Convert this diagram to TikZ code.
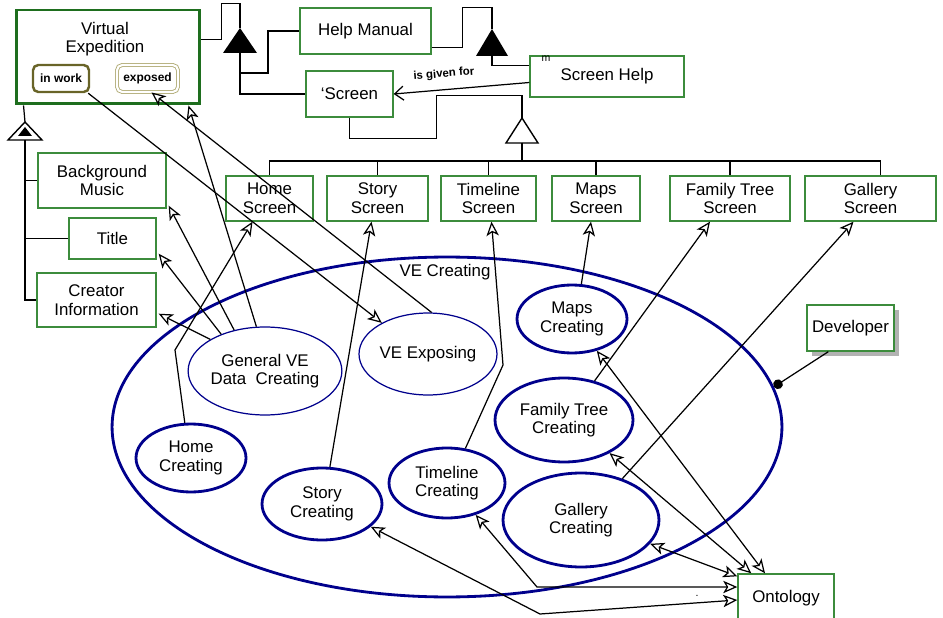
\documentclass[tikz,border=0pt]{standalone}
\usepackage{fontspec}
\setmainfont{Liberation Sans}
\usetikzlibrary{shapes.geometric,arrows.meta,shadows}

\definecolor{boxgreen}{RGB}{60,140,60}
\definecolor{vegreen}{RGB}{30,110,30}
\definecolor{ucnavy}{RGB}{0,0,140}
\definecolor{workolive}{RGB}{105,100,40}
\definecolor{exposedkhaki}{RGB}{175,170,115}

\begin{document}
\begin{tikzpicture}[x=0.02cm,y=-0.02cm,
    every node/.style={font=\fontsize{9.6}{10.6}\selectfont, align=center},
    box/.style={draw=boxgreen, line width=0.8pt, inner sep=0pt},
    vebox/.style={draw=vegreen, line width=1.7pt, inner sep=0pt},
    statebox/.style={rounded corners=3pt, inner sep=0pt, minimum height=0.54cm,
        font=\fontsize{6.8}{7.5}\selectfont\bfseries},
    usecase/.style={ellipse, draw=ucnavy, line width=1.6pt, inner sep=0pt},
    thinuse/.style={ellipse, draw=ucnavy, line width=0.7pt, inner sep=0pt},
    link/.style={line width=0.7pt},
    dep/.style={link, -{Stealth[open,length=8pt,width=7pt,inset=2pt]}},
    both/.style={link, {Stealth[open,length=8pt,width=7pt,inset=2pt]}-{Stealth[open,length=8pt,width=7pt,inset=2pt]}}]

    % Frame of the picture
    \useasboundingbox (0,0) rectangle (943,618);

    % Draw the system boundary
    \node[usecase, minimum width=13.4cm, minimum height=6.8cm] (vecreate) at (447,427) {};
    \node (vclabel) at (445,272) {VE Creating};

    % Draw Virtual Expedition with its states
    \node[vebox, minimum width=3.68cm, minimum height=1.88cm] (ve) at (108,57) {};
    \node (vetitle) at (105,39) {Virtual\\Expedition};
    \node[statebox, draw=workolive, line width=1.4pt, minimum width=1.12cm] (inwork) at (61,78.5) {in work};
    \node[statebox, draw=exposedkhaki, line width=0.5pt, double=white, double distance=1.2pt,
        minimum width=1.22cm] (exposed) at (147.5,78.5) {exposed};

    % Draw help and screen classes
    \node[box, minimum width=2.62cm, minimum height=0.92cm] (help) at (365.5,31) {Help Manual};
    \node[box, minimum width=1.74cm, minimum height=0.92cm] (screen) at (349.5,94) {‘Screen};
    \node[box, minimum width=3.08cm, minimum height=0.82cm] (shelp) at (607,76.5) {Screen Help};
    \node[font=\fontsize{6}{6}\selectfont] (mmark) at (546,59) {m};

    % Draw the screens
    \node[box, minimum width=1.74cm, minimum height=0.9cm] (homescr) at (269.5,198.5) {Home\\Screen};
    \node[box, minimum width=2.02cm, minimum height=0.9cm] (storyscr) at (377.5,198.5) {Story\\Screen};
    \node[box, minimum width=1.9cm, minimum height=0.9cm] (timescr) at (488.5,198.5) {Timeline\\Screen};
    \node[box, minimum width=1.76cm, minimum height=0.9cm] (mapsscr) at (596,198.5) {Maps\\Screen};
    \node[box, minimum width=2.4cm, minimum height=0.9cm] (famscr) at (730,198.5) {Family Tree\\Screen};
    \node[box, minimum width=2.62cm, minimum height=0.9cm] (galscr) at (870.5,198.5) {Gallery\\Screen};

    % Draw the parts on the left
    \node[box, minimum width=2.56cm, minimum height=1.1cm] (bgmusic) at (102,180.5) {Background\\Music};
    \node[box, minimum width=1.74cm, minimum height=0.82cm] (title) at (112.5,238.5) {Title};
    \node[box, minimum width=2.38cm, minimum height=1.08cm] (creator) at (96.5,300) {Creator\\Information};

    % Draw actor and ontology
    \node[box, fill=white, minimum width=1.74cm, minimum height=0.92cm,
        drop shadow={shadow xshift=3pt, shadow yshift=-3pt, fill=black!30, opacity=1}] (developer) at (850.5,328) {Developer};
    \node[box, minimum width=1.92cm, minimum height=0.96cm] (ontology) at (786,598) {Ontology};
    \node[font=\fontsize{6}{6}\selectfont] (dotmark) at (697,596) {.};

    % Draw the use cases
    \node[thinuse, minimum width=2.96cm, minimum height=1.76cm] (gve) at (265,371) {General VE\\Data\ \ Creating};
    \node[thinuse, minimum width=2.76cm, minimum height=1.64cm] (veexp) at (428,354) {VE Exposing};
    \node[usecase, minimum width=2.2cm, minimum height=1.36cm] (homecr) at (191,458) {Home\\Creating};
    \node[usecase, minimum width=2.4cm, minimum height=1.44cm] (storycr) at (322,504) {Story\\Creating};
    \node[usecase, minimum width=2.32cm, minimum height=1.4cm] (timecr) at (447,483) {Timeline\\Creating};
    \node[usecase, minimum width=2.2cm, minimum height=1.36cm] (mapscr) at (572,319) {Maps\\Creating};
    \node[usecase, minimum width=2.76cm, minimum height=1.68cm] (famcr) at (564,420) {Family Tree\\Creating};
    \node[usecase, minimum width=3.12cm, minimum height=1.88cm] (galcr) at (581,520) {Gallery\\Creating};

    % Draw the aggregation triangles
    \coordinate (agg1) at (240,28);
    \coordinate (agg1b) at (240,53);
    \fill (agg1) -- ++(17,25) -- ++(-34,0) -- cycle;
    \coordinate (agg2) at (492,29);
    \coordinate (agg2b) at (492,56);
    \fill (agg2) -- ++(16,27) -- ++(-32,0) -- cycle;
    \coordinate (agg3) at (522,118);
    \coordinate (agg3b) at (522,143);
    \draw[link, line width=0.8pt] (agg3) -- ++(16,25) -- ++(-32,0) -- cycle;
    \coordinate (agg4) at (25,122);
    \coordinate (agg4b) at (25,140);
    \draw[link, line width=0.8pt] (agg4) -- ++(17,18) -- ++(-34,0) -- cycle;
    \fill ([shift={(0,5)}]agg4) -- ++(7,9) -- ++(-14,0) -- cycle;

    % Connect help and screen
    \draw[link] ([shift={(0,31)}]ve.north east) -- ++(20,0) -- ++(0,-36) -| (agg1);
    \draw[link] (agg1b) -- ++(0,20) -- ++(28,0) |- (help.west);
    \draw[link] (agg1b) |- (screen.west);
    \draw[link] ([shift={(0,-7)}]help.south east) -- ++(31,0) -- ++(0,-40) -| (agg2);
    \draw[link] (agg2b) |- ([shift={(0,10)}]shelp.north west);
    \draw[link, -{Straight Barb[length=5pt,width=8pt]}] ([shift={(0,6)}]shelp.west) --
        node[pos=0.62, above=2pt, sloped, font=\fontsize{6.5}{7}\selectfont\bfseries] (givenfor) {is given for} (screen.east);

    % Connect the screens
    \draw[link] (screen.south) -- ++(0,21) -- ++(87,0) -- ++(0,-43) -| (agg3);
    \draw[line width=1.3pt] (agg3b) -- ++(0,18);
    \foreach \s in {homescr,storyscr,timescr,mapsscr,famscr}
        \draw[link] (agg3b) -- ++(0,18) -| (\s.north);
    \draw[link] (agg3b) -- ++(0,18) -| ([shift={(10,0)}]galscr.north);

    % Connect the parts
    \draw[link] ([shift={(9,0)}]ve.south west) -- (agg4);
    \foreach \p in {bgmusic,title,creator}
        \draw[link] (agg4b) |- (\p.west);

    % Developer
    \draw[link, -{Circle[length=5.5pt]}] ([shift={(22,0)}]developer.south west) -- (vecreate.7);

    % Dependencies
    \coordinate (hbend) at (175,350);
    \coordinate (tbend) at (503,365);
    \coordinate (tbend2) at (537,587);
    \coordinate (sbend) at (540,614);
    \draw[dep] (gve.150) -- ([shift={(2,-14)}]creator.south east);
    \draw[dep] (gve.140) -- ([shift={(2,-6)}]title.south east);
    \draw[dep] (gve.127) -- ([shift={(2,-3)}]bgmusic.south east);
    \draw[dep] (gve.101) -- ([shift={(-13,0)}]ve.south east);
    \draw[dep] (homecr.100) -- (hbend) -- ([shift={(-17,0)}]homescr.south);
    \draw[dep] ([shift={(-2,0)}]inwork.south east) -- (veexp.146);
    \draw[dep] (veexp.85) -- ([shift={(4,0)}]exposed.south);
    \draw[dep] (storycr.78) -- ([shift={(-6,0)}]storyscr.south);
    \draw[dep] (timecr.62) -- (tbend) -- ([shift={(3,0)}]timescr.south);
    \draw[dep] (mapscr.75) -- ([shift={(-5,0)}]mapsscr.south);
    \draw[dep] (famcr.52) -- ([shift={(-20,0)}]famscr.south);
    \draw[dep] (galcr.45) -- ([shift={(-17,0)}]galscr.south);

    % Use of the ontology
    \draw[both] (mapscr.-52) -- ([shift={(-21,0)}]ontology.north);
    \draw[both] (famcr.-36) -- ([shift={(14,0)}]ontology.north west);
    \draw[both] (galcr.-19) -- ([shift={(0,3)}]ontology.north west);
    \draw[both] (timecr.-48) -- (tbend2) -- ([shift={(0,-11)}]ontology.west);
    \draw[both] (storycr.-25) -- (sbend) -- ([shift={(0,2)}]ontology.west);
\end{tikzpicture}
\end{document}
